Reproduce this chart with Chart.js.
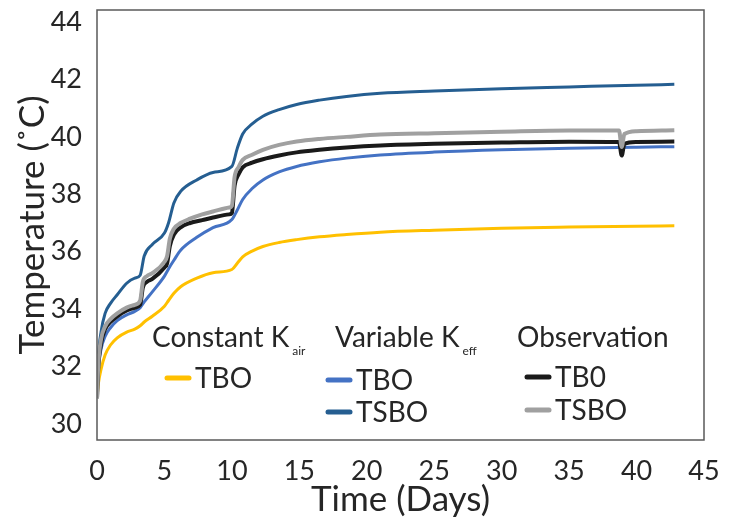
<!DOCTYPE html>
<html>
<head>
<meta charset="utf-8">
<script src="https://cdn.jsdelivr.net/npm/chart.js@4.4.0/dist/chart.umd.min.js"></script>
<style>
html, body { margin: 0; padding: 0; background: #fff; }
</style>
</head>
<body>
<canvas id="tempChart" width="731" height="521"></canvas>
<script>
// model curves share one time grid (days)
var modelDays = [0, 0.1, 0.3, 0.6, 1.0, 1.5, 2.2, 2.8, 3.2, 3.5, 4.1, 5.0, 5.3, 5.7, 6.2, 7.4, 8.6, 10.0, 10.4, 10.8, 11.5, 12.3, 13.5, 14.8, 16.5, 18.5, 21, 25, 30, 35, 40, 42.8];
var constTBO = [30.9, 31.4, 31.9, 32.4, 32.75, 33.0, 33.2, 33.3, 33.42, 33.55, 33.75, 34.1, 34.3, 34.55, 34.78, 35.08, 35.27, 35.38, 35.6, 35.82, 36.02, 36.18, 36.32, 36.42, 36.52, 36.6, 36.68, 36.75, 36.82, 36.86, 36.89, 36.9];
var varTBO = [30.9, 31.9, 32.6, 33.05, 33.35, 33.6, 33.8, 33.92, 34.05, 34.25, 34.6, 35.15, 35.4, 35.7, 36.05, 36.5, 36.84, 37.12, 37.45, 37.82, 38.2, 38.5, 38.78, 38.97, 39.13, 39.26, 39.37, 39.47, 39.55, 39.6, 39.64, 39.66];
var varTSBO = [30.9, 32.3, 33.2, 33.85, 34.2, 34.5, 34.9, 35.08, 35.18, 35.85, 36.25, 36.65, 37.0, 37.7, 38.1, 38.5, 38.76, 38.97, 39.6, 40.1, 40.45, 40.72, 40.95, 41.13, 41.28, 41.41, 41.52, 41.6, 41.68, 41.74, 41.8, 41.83];

// observations (with the dip near day 39)
var obsDays = [0, 0.1, 0.3, 0.6, 1.0, 1.5, 2.2, 2.8, 3.2, 3.4, 3.7, 4.1, 5.0, 5.2, 5.4, 5.7, 6.2, 6.9, 7.8, 8.6, 9.8, 10.0, 10.2, 10.5, 10.8, 11.5, 12.3, 13.5, 14.8, 16.5, 18.5, 21, 25, 30, 35, 38.7, 38.9, 39.1, 40, 42.8];
var obsTB0 = [30.9, 32.0, 32.8, 33.3, 33.55, 33.75, 33.95, 34.05, 34.15, 34.75, 34.95, 35.05, 35.45, 35.6, 36.2, 36.6, 36.85, 37.0, 37.1, 37.19, 37.3, 37.35, 38.3, 38.7, 38.94, 39.1, 39.22, 39.35, 39.46, 39.55, 39.63, 39.7, 39.76, 39.8, 39.83, 39.82, 39.35, 39.75, 39.82, 39.84];
var obsTSBO = [30.9, 32.1, 32.95, 33.4, 33.65, 33.85, 34.05, 34.15, 34.3, 34.95, 35.15, 35.25, 35.65, 35.85, 36.45, 36.8, 37.0, 37.15, 37.3, 37.4, 37.54, 37.6, 38.6, 38.95, 39.2, 39.38, 39.55, 39.72, 39.84, 39.93, 40.0, 40.08, 40.13, 40.18, 40.22, 40.22, 39.65, 40.1, 40.2, 40.23];

var xTicks = [0, 5, 10, 15, 20, 25, 30, 35, 40, 45];
var yTicks = [30, 32, 34, 36, 38, 40, 42, 44];

var FONT = "Lato";
var TEXT = "#262626";

function pts(xs, ys) {
    return xs.map(function (x, i) { return { x: x, y: ys[i] }; });
}

function line(label, xs, ys, color, width, order) {
    return {
        label: label,
        data: pts(xs, ys),
        borderColor: color,
        backgroundColor: color,
        borderWidth: width,
        fill: false,
        pointRadius: 0,
        cubicInterpolationMode: 'monotone',
        order: order
    };
}

// legend with sub-headings, drawn inside the plot
var legendPlugin = {
    id: 'groupLegend',
    afterDatasetsDraw: function (chart) {
        var ctx = chart.ctx;
        ctx.save();
        ctx.fillStyle = TEXT;
        ctx.textBaseline = 'alphabetic';
        ctx.textAlign = 'left';

        function heading(txt, sub, x, y) {
            ctx.font = "28px " + FONT;
            ctx.fillText(txt, x, y);
            if (sub) {
                var w = ctx.measureText(txt).width;
                ctx.font = "12px " + FONT;
                ctx.fillText(sub, x + w + 3, y + 8);
            }
        }
        function entry(txt, color, x, y) {
            ctx.strokeStyle = color;
            ctx.lineWidth = 5;
            ctx.lineCap = 'round';
            ctx.beginPath();
            ctx.moveTo(x, y - 10);
            ctx.lineTo(x + 22, y - 10);
            ctx.stroke();
            ctx.font = "28px " + FONT;
            ctx.fillText(txt, x + 28, y);
        }

        heading("Constant K", "air", 152, 347);
        heading("Variable K", "eff", 335, 347);
        heading("Observation", null, 517, 347);

        entry("TBO", "#FFC000", 167, 388);
        entry("TBO", "#4472C4", 328, 390);
        entry("TSBO", "#255E91", 328, 422);
        entry("TB0", "#1A1A1A", 527, 387);
        entry("TSBO", "#A0A0A0", 527, 420);
        ctx.restore();
    }
};

// full box round the plot area
var boxPlugin = {
    id: 'plotBox',
    afterDraw: function (chart) {
        var a = chart.chartArea;
        var ctx = chart.ctx;
        ctx.save();
        ctx.strokeStyle = "#595959";
        ctx.lineWidth = 1.5;
        ctx.strokeRect(a.left, a.top, a.right - a.left, a.bottom - a.top);
        ctx.restore();
    }
};

var config = {
    type: 'line',
    data: {
        datasets: [
            line("Constant Kair TBO", modelDays, constTBO, "#FFC000", 3, 5),
            line("Variable Keff TBO", modelDays, varTBO, "#4472C4", 3, 4),
            line("Variable Keff TSBO", modelDays, varTSBO, "#255E91", 3, 3),
            line("Observation TB0", obsDays, obsTB0, "#1A1A1A", 4, 2),
            line("Observation TSBO", obsDays, obsTSBO, "#A0A0A0", 4, 1)
        ]
    },
    options: {
        responsive: false,
        animation: false,
        layout: {
            padding: { top: 10, right: 27, left: 0, bottom: 0 }
        },
        scales: {
            x: {
                type: 'linear',
                min: 0,
                max: 45,
                afterFit: function (s) {
                    s.height = 81;
                    s.paddingLeft = 0;
                    s.paddingRight = 0;
                },
                afterBuildTicks: function (s) {
                    s.ticks = xTicks.map(function (v) { return { value: v }; });
                },
                grid: { display: false },
                border: { display: false },
                ticks: {
                    color: TEXT,
                    padding: 7,
                    maxRotation: 0,
                    font: { family: FONT, size: 27 }
                },
                title: {
                    display: true,
                    text: "Time (Days)",
                    color: TEXT,
                    padding: { top: 0, bottom: 0 },
                    font: { family: FONT, size: 35 }
                }
            },
            y: {
                type: 'linear',
                min: 29.44,
                max: 44.42,
                afterFit: function (s) {
                    s.width = 97;
                    s.paddingTop = 0;
                    s.paddingBottom = 0;
                },
                afterBuildTicks: function (s) {
                    s.ticks = yTicks.map(function (v) { return { value: v }; });
                },
                grid: { display: false },
                border: { display: false },
                ticks: {
                    color: TEXT,
                    padding: 7,
                    font: { family: FONT, size: 27 }
                },
                title: {
                    display: true,
                    text: "Temperature (˚C)",
                    color: TEXT,
                    padding: { top: 12, bottom: 0 },
                    font: { family: FONT, size: 35 }
                }
            }
        },
        plugins: {
            legend: { display: false },
            tooltip: { enabled: false }
        }
    },
    plugins: [legendPlugin, boxPlugin]
};

var ctx = document.getElementById("tempChart").getContext("2d");
var chart = new Chart(ctx, config);
</script>
</body>
</html>
